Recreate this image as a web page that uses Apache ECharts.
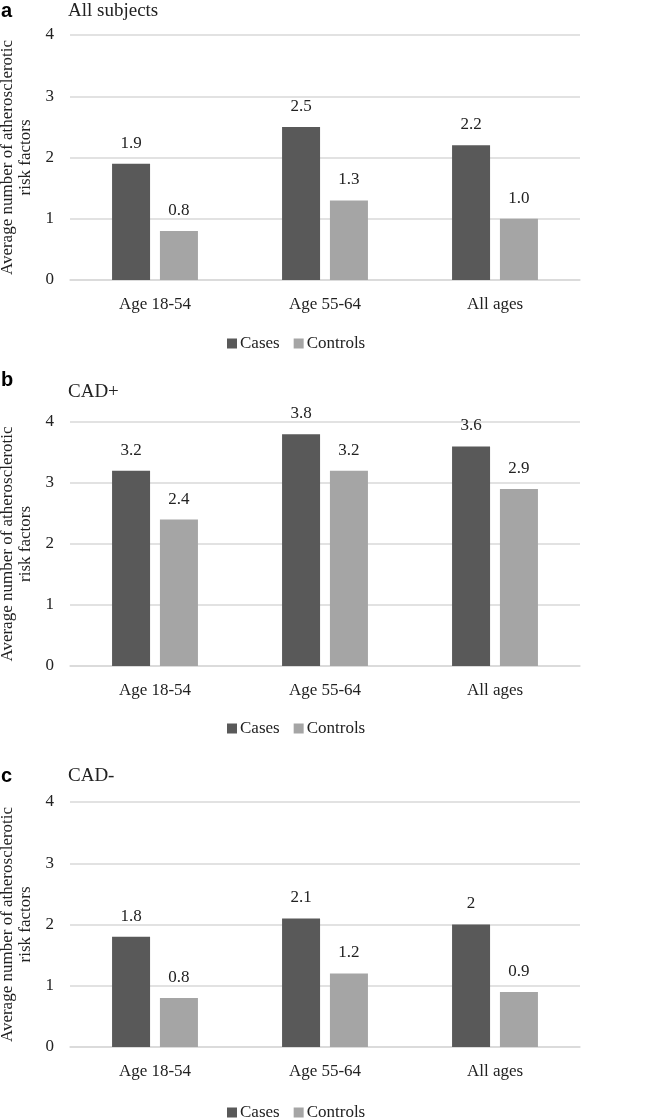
<!DOCTYPE html>
<html>
<head>
<meta charset="utf-8">
<style>html,body{margin:0;padding:0;background:#fff}#c{width:649px;height:1120px}</style>
<script src="https://cdn.jsdelivr.net/npm/echarts@6/dist/echarts.min.js"></script>
</head>
<body>
<div id="c"></div>
<script>
const categories = ['Age 18-54', 'Age 55-64', 'All ages'];
const panelLetters = ['a', 'b', 'c'];
const panelTitles = ['All subjects', 'CAD+', 'CAD-'];
const seriesNames = ['Cases', 'Controls'];
const casesA = [1.9, 2.5, 2.2];
const controlsA = [0.8, 1.3, 1.0];
const casesB = [3.2, 3.8, 3.6];
const controlsB = [2.4, 3.2, 2.9];
const casesC = [1.8, 2.1, 2.0];
const controlsC = [0.8, 1.2, 0.9];
const casesLabelsC = ['1.8', '2.1', '2'];
const yTicks = [0, 1, 2, 3, 4];
const yName = 'Average number of atherosclerotic\nrisk factors';

const panels = [
  {cases: casesA, controls: controlsA, casesLabels: casesA.map(v => v.toFixed(1)), controlsLabels: controlsA.map(v => v.toFixed(1))},
  {cases: casesB, controls: controlsB, casesLabels: casesB.map(v => v.toFixed(1)), controlsLabels: controlsB.map(v => v.toFixed(1))},
  {cases: casesC, controls: controlsC, casesLabels: casesLabelsC, controlsLabels: controlsC.map(v => v.toFixed(1))}
];

const SERIF = '"Liberation Serif", "Times New Roman", serif';
const gridTops = [35, 422, 802];
const gridH = [245, 244, 245];
const letterY = [1, 370, 766];
const titleY = [2, 383, 767];
const legendTops = [330, 715, 1099];
const colors = ['#595959', '#a5a5a5'];

const option = {
  animation: false,
  backgroundColor: '#fff',
  title: [],
  grid: [],
  xAxis: [],
  yAxis: [],
  legend: [],
  series: []
};

panels.forEach((p, i) => {
  option.title.push({
    text: panelLetters[i], left: 1, top: letterY[i], padding: 0,
    textStyle: {fontFamily: '"Liberation Sans", Arial, sans-serif', fontWeight: 'bold', fontSize: 20, color: '#000'}
  });
  option.title.push({
    text: panelTitles[i], left: 68, top: titleY[i], padding: 0,
    textStyle: {fontFamily: SERIF, fontWeight: 'normal', fontSize: 19, color: '#222'}
  });
  option.grid.push({left: 70, width: 510, top: gridTops[i], height: gridH[i], containLabel: false, outerBoundsMode: 'none'});
  option.xAxis.push({
    type: 'category', gridIndex: i, data: categories,
    axisLine: {lineStyle: {color: '#d9d9d9', width: 1.5}},
    axisTick: {show: false},
    axisLabel: {fontFamily: SERIF, fontSize: 17, color: '#222', margin: 16}
  });
  option.yAxis.push({
    type: 'value', gridIndex: i, min: yTicks[0], max: yTicks[yTicks.length - 1], interval: 1,
    name: yName, nameLocation: 'middle', nameGap: 30, nameRotate: 90,
    nameTextStyle: {fontFamily: SERIF, fontSize: 17, color: '#222', lineHeight: 18, align: 'center'},
    axisLine: {show: false}, axisTick: {show: false},
    splitLine: {lineStyle: {color: '#d9d9d9', width: 1.5}},
    axisLabel: {fontFamily: SERIF, fontSize: 17, color: '#222', margin: 16}
  });
  option.legend.push({
    data: seriesNames, top: legendTops[i], left: 222,
    itemWidth: 10, itemHeight: 10, itemGap: 14, icon: 'rect',
    textStyle: {fontFamily: SERIF, fontSize: 17, color: '#222', padding: [0, 0, 0, -2]}
  });
  const vals = [p.cases, p.controls];
  const labs = [p.casesLabels, p.controlsLabels];
  seriesNames.forEach((n, k) => {
    option.series.push({
      type: 'bar', name: n, xAxisIndex: i, yAxisIndex: i,
      data: vals[k], barWidth: 38, barGap: '26%',
      itemStyle: {color: colors[k]},
      label: {
        show: true, position: 'top', distance: 12,
        fontFamily: SERIF, fontSize: 17, color: '#222',
        formatter: (d) => labs[k][d.dataIndex]
      }
    });
  });
});

const chart = echarts.init(document.getElementById('c'));
chart.setOption(option);
</script>
</body>
</html>
